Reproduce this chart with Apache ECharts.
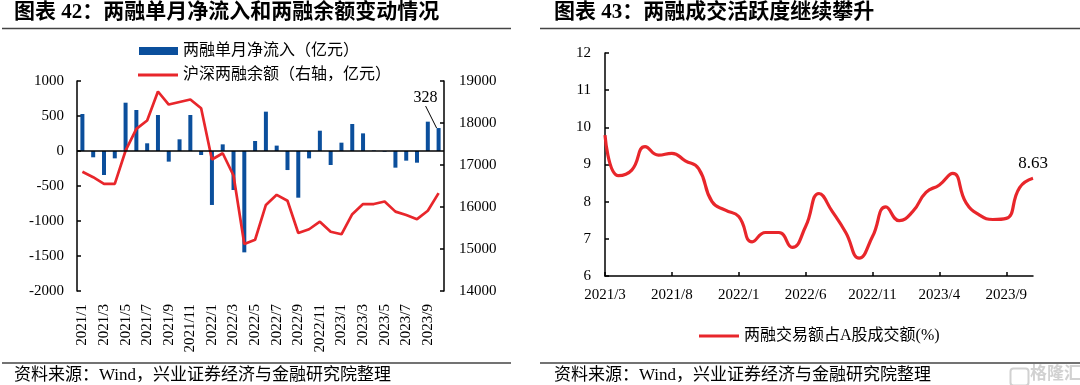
<!DOCTYPE html>
<html>
<head>
<meta charset="utf-8">
<script src="https://cdn.jsdelivr.net/npm/echarts@6/dist/echarts.min.js"></script>
<style>html,body{margin:0;padding:0;background:#fff;}#c{width:1080px;height:385px;}</style>
</head>
<body>
<div id="c"></div>
<script>
// ---- Left chart data ----
const monthsLeft = ['2021/1','2021/2','2021/3','2021/4','2021/5','2021/6','2021/7','2021/8','2021/9','2021/10','2021/11','2021/12',
  '2022/1','2022/2','2022/3','2022/4','2022/5','2022/6','2022/7','2022/8','2022/9','2022/10','2022/11','2022/12',
  '2023/1','2023/2','2023/3','2023/4','2023/5','2023/6','2023/7','2023/8','2023/9','2023/10'];
const netInflow = [529,-90,-343,-105,690,586,110,514,-152,167,514,-57,
  -771,95,-557,-1448,143,562,77,-272,-667,-105,290,-200,
  119,386,252,8,-10,-238,-138,-167,419,328];
const balance = [16840,16710,16550,16550,17340,17860,18060,18750,18440,18500,18560,18350,
  17130,17280,16750,15120,15220,16050,16290,16150,15380,15470,15650,15410,
  15350,15830,16070,16070,16130,15890,15810,15710,15910,16330];
const leftTicks = {min:-2000, max:1000, interval:500};
const rightTicks = {min:14000, max:19000, interval:1000};

// ---- Right chart data ----
const monthsRight = ['2021/3','2021/4','2021/5','2021/6','2021/7','2021/8','2021/9','2021/10','2021/11','2021/12',
  '2022/1','2022/2','2022/3','2022/4','2022/5','2022/6','2022/7','2022/8','2022/9','2022/10','2022/11','2022/12',
  '2023/1','2023/2','2023/3','2023/4','2023/5','2023/6','2023/7','2023/8','2023/9','2023/10','2023/11'];
const marginShare = [9.79,8.70,8.85,9.48,9.25,9.30,9.10,8.89,8.00,7.77,
  7.60,6.92,7.17,7.17,6.77,7.33,8.22,7.73,7.17,6.48,7.06,7.86,
  7.49,7.73,8.25,8.45,8.76,7.97,7.64,7.52,7.55,8.38,8.63];
const shareTicks = {min:6, max:12, interval:1};

const FONT = "'Liberation Serif', 'Noto Sans CJK SC', serif";
const RED = '#E8262B';
const BLUE = '#0B4F9C';
const plain = v => String(v);

const axisCommon = {
  axisLine: {show: true, lineStyle: {color: '#000', width: 1.5}},
  axisTick: {show: true, inside: true, length: 4, lineStyle: {color: '#000', width: 1.5}},
  splitLine: {show: false}
};
const lbl = (margin) => ({color: '#000', fontSize: 15, fontFamily: FONT, margin: margin, formatter: plain});

const lastIdx = netInflow.length - 1;
const barData = netInflow.map((v, i) => i === lastIdx
  ? {value: v, label: {show: true, position: 'top', formatter: '{c}', color: '#000', fontSize: 16, fontFamily: FONT}}
  : v);
const lastR = marginShare.length - 1;
const shareData = marginShare.map((v, i) => i === lastR
  ? {value: v, label: {show: true, position: 'top', distance: 6, formatter: '{c}', color: '#000', fontSize: 17, fontFamily: FONT}}
  : v);

const legendText = {color: '#000', fontSize: 16, fontFamily: FONT};

const chart = echarts.init(document.getElementById('c'), null, {renderer: 'canvas'});
chart.setOption({
  animation: false,
  backgroundColor: '#fff',
  textStyle: {fontFamily: FONT},
  grid: [
    {left: 77, top: 81, width: 367, height: 210},
    {left: 605, top: 53, width: 428, height: 223}
  ],
  legend: [
    {orient: 'horizontal', left: 134, top: 38, itemWidth: 39, itemHeight: 8,
      textStyle: legendText,
      data: [{name: '两融单月净流入（亿元）', icon: 'rect'}]},
    {orient: 'horizontal', left: 133, top: 62, itemWidth: 40, itemHeight: 3,
      textStyle: legendText,
      data: [{name: '沪深两融余额（右轴，亿元）', icon: 'rect'}]},
    {orient: 'horizontal', left: 694, top: 323, itemWidth: 40, itemHeight: 3,
      textStyle: legendText,
      data: [{name: '两融交易额占A股成交额(%)', icon: 'rect'}]}
  ],
  xAxis: [
    {type: 'category', gridIndex: 0, data: monthsLeft, boundaryGap: true,
      axisLine: {show: false}, axisTick: {show: false},
      axisLabel: {color: '#000', fontSize: 15, fontFamily: FONT, rotate: 90, interval: 1, margin: 13}},
    {type: 'category', gridIndex: 1, data: monthsRight, boundaryGap: false,
      axisLine: {show: true, lineStyle: {color: '#000', width: 1.5}},
      axisTick: {show: true, inside: true, length: 4, interval: 4, lineStyle: {color: '#000', width: 1.5}},
      axisLabel: {color: '#000', fontSize: 15, fontFamily: FONT, interval: 4, margin: 12}}
  ],
  yAxis: [
    Object.assign({type: 'value', gridIndex: 0, position: 'left'}, leftTicks, axisCommon, {axisLabel: lbl(13)}),
    Object.assign({type: 'value', gridIndex: 0, position: 'right'}, rightTicks, axisCommon, {axisLabel: lbl(15)}),
    Object.assign({type: 'value', gridIndex: 1, position: 'left'}, shareTicks, axisCommon, {axisLabel: lbl(14)})
  ],
  series: [
    {name: '两融单月净流入（亿元）', type: 'bar', xAxisIndex: 0, yAxisIndex: 0,
      data: barData, barWidth: 4, itemStyle: {color: BLUE},
      labelLayout: function (p) { return p.dataIndex === lastIdx ? {dx: -13, dy: -17} : {}; },
      labelLine: {show: true, lineStyle: {color: '#000', width: 1}},
      markLine: {silent: true, symbol: 'none', label: {show: false},
        lineStyle: {color: '#000', width: 1.5, type: 'solid'}, data: [{yAxis: 0}]}},
    {name: '沪深两融余额（右轴，亿元）', type: 'line', xAxisIndex: 0, yAxisIndex: 1,
      data: balance, symbol: 'none', lineStyle: {color: RED, width: 2.7}, itemStyle: {color: RED}},
    {name: '两融交易额占A股成交额(%)', type: 'line', xAxisIndex: 1, yAxisIndex: 2,
      data: shareData, smooth: 0.5, showSymbol: true, symbol: 'circle', symbolSize: 0,
      lineStyle: {color: RED, width: 3.2}, itemStyle: {color: RED}}
  ],
  graphic: [
    {type: 'text', left: 14, top: 2, style: {text: '图表 42：两融单月净流入和两融余额变动情况', font: "bold 21px 'Liberation Serif', 'Noto Sans CJK SC'", fill: '#000'}},
    {type: 'text', left: 554, top: 2, style: {text: '图表 43：两融成交活跃度继续攀升', font: "bold 21px 'Liberation Serif', 'Noto Sans CJK SC'", fill: '#000'}},
    {type: 'line', shape: {x1: 2, y1: 28.5, x2: 511, y2: 28.5}, style: {stroke: '#444', lineWidth: 1.5}},
    {type: 'line', shape: {x1: 540, y1: 28.5, x2: 1080, y2: 28.5}, style: {stroke: '#444', lineWidth: 1.5}},
    {type: 'line', shape: {x1: 2, y1: 363, x2: 511, y2: 363}, style: {stroke: '#444', lineWidth: 1.5}},
    {type: 'line', shape: {x1: 540, y1: 363, x2: 1080, y2: 363}, style: {stroke: '#444', lineWidth: 1.5}},
    {type: 'text', left: 14, top: 367, style: {text: '资料来源：Wind，兴业证券经济与金融研究院整理', font: "17px 'Liberation Serif', 'Noto Sans CJK SC'", fill: '#000'}},
    {type: 'text', left: 554, top: 367, style: {text: '资料来源：Wind，兴业证券经济与金融研究院整理', font: "17px 'Liberation Serif', 'Noto Sans CJK SC'", fill: '#000'}},
    {type: 'text', left: 1030, top: 364, style: {text: '格隆汇', font: "bold 17px 'Noto Sans CJK SC'", fill: 'rgba(190,190,190,0.7)'}},
    {type: 'rect', left: 1008, top: 366, shape: {width: 18, height: 17, r: 3}, style: {fill: 'none', stroke: 'rgba(190,190,190,0.7)', lineWidth: 2}}
  ]
});
</script>
</body>
</html>
